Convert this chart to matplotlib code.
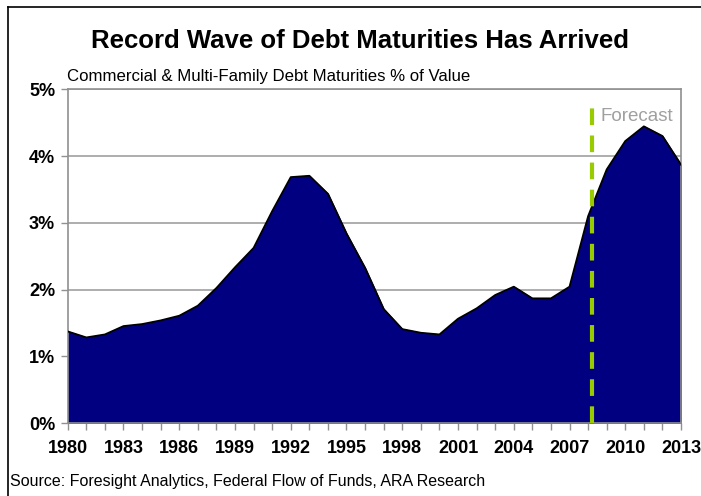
import matplotlib
matplotlib.use('Agg')
import matplotlib.pyplot as plt
from matplotlib.lines import Line2D
import numpy as np

plt.rcParams['font.family'] = ['Liberation Sans', 'DejaVu Sans']

years = list(range(1980, 2014))
maturities = [1.375, 1.285, 1.33, 1.455, 1.485, 1.54, 1.61, 1.76, 2.025, 2.335,
              2.625, 3.175, 3.685, 3.705, 3.435, 2.84, 2.325, 1.71, 1.41, 1.355,
              1.33, 1.565, 1.72, 1.92, 2.045, 1.87, 1.87, 2.045, 3.1, 3.8,
              4.225, 4.445, 4.3, 3.87]
forecast_year = 2008.2
tick_years = list(range(1980, 2014, 3))
y_ticks = [0, 1, 2, 3, 4, 5]

fig = plt.figure(figsize=(7.01, 4.96), dpi=100)
ax = fig.add_axes([0.0966, 0.1466, 0.8749, 0.6734])

ax.fill_between(years, maturities, 0, color='#000080', zorder=2)
ax.plot(years, maturities, color='black', lw=1.3, zorder=3)
ax.plot([forecast_year, forecast_year], [0, 4.8], color='#99CC00', lw=3,
        dashes=(4, 2.5), zorder=4)
ax.text(2008.65, 4.6, 'Forecast', color='#A0A0A0', fontsize=13.5, va='center')

ax.set_xlim(1980, 2013)
ax.set_ylim(0, 5)
ax.set_xticks(years, minor=True)
ax.set_xticks(tick_years)
ax.set_xticklabels([str(y) for y in tick_years], fontsize=13, fontweight='bold')
ax.set_yticks(y_ticks)
ax.set_yticklabels([f'{v}%' for v in y_ticks], fontsize=13, fontweight='bold')
ax.grid(axis='y', color='#A0A0A0', lw=1.2, zorder=1)
for s in ax.spines.values():
    s.set_color('#909090')
    s.set_linewidth(1.2)
ax.tick_params(axis='both', which='both', direction='out', color='#909090',
               length=5, width=1)
ax.tick_params(axis='x', which='major', pad=7)
ax.tick_params(axis='y', pad=4)

fig.text(0.514, 0.918, 'Record Wave of Debt Maturities Has Arrived',
         ha='center', va='center', fontsize=18.5, fontweight='bold')
fig.text(0.096, 0.845, 'Commercial & Multi-Family Debt Maturities % of Value',
         ha='left', va='center', fontsize=12.1)
fig.text(0.014, 0.03, 'Source: Foresight Analytics, Federal Flow of Funds, ARA Research',
         ha='left', va='center', fontsize=11.5)

fig.add_artist(Line2D([8 / 701, 8 / 701], [0, 1 - 7 / 496], color='black', lw=1.2,
                      transform=fig.transFigure))
fig.add_artist(Line2D([8 / 701, 1], [1 - 7 / 496, 1 - 7 / 496], color='black', lw=1.2,
                      transform=fig.transFigure))

fig.savefig('out.png', dpi=100)
